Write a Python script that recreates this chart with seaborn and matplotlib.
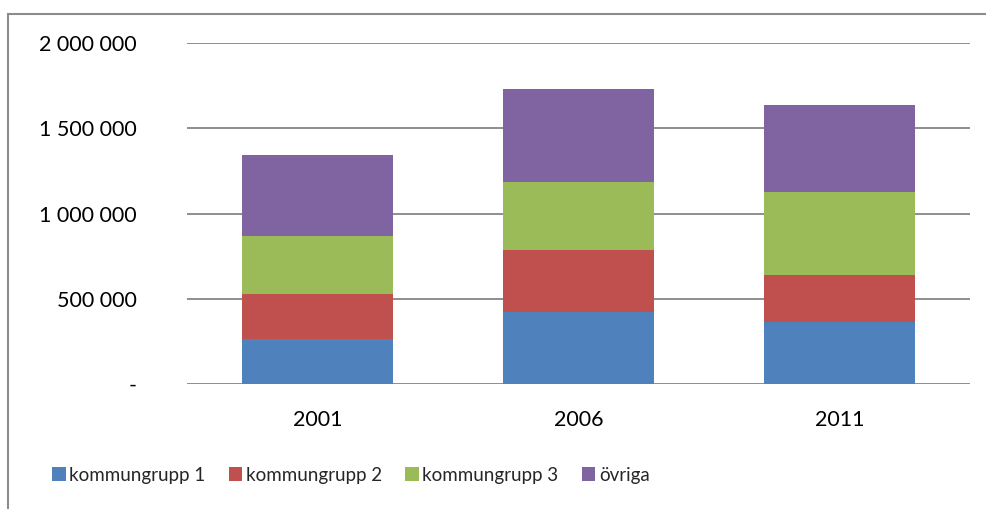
import numpy as np
import pandas as pd
import seaborn as sns
from matplotlib import pyplot as plt
from matplotlib.patches import Rectangle, Patch

years = ['2001', '2006', '2011']
groups = ['kommungrupp 1', 'kommungrupp 2', 'kommungrupp 3', 'övriga']
grupp1 = [265000, 424000, 363000]
grupp2 = [260000, 360000, 274000]
grupp3 = [341000, 400000, 492000]
ovriga = [477000, 549000, 508000]
colors = ['#4f81bd', '#c0504d', '#9bbb59', '#8064a2']
ytick_labels = ['-', '500 000', '1 000 000', '1 500 000', '2 000 000']

sns.set_theme(style='white')
plt.rcParams['font.family'] = ['Lato', 'DejaVu Sans']

df = pd.DataFrame({'year': years, 'kommungrupp 1': grupp1, 'kommungrupp 2': grupp2,
                   'kommungrupp 3': grupp3, 'övriga': ovriga})
cum = df[groups].cumsum(axis=1)
cum['year'] = df['year']

fig = plt.figure(figsize=(9.87, 5.09), dpi=100)
ax = fig.add_axes([187 / 987, 1 - 384 / 509, (970 - 187) / 987, (384 - 43) / 509])

# draw cumulative totals from the top down so each layer covers the one above
for g, c in zip(groups[::-1], colors[::-1]):
    sns.barplot(data=cum, x='year', y=g, color=c, width=0.575, saturation=1,
                linewidth=0, ax=ax)

ax.set_ylim(0, 2000000)
ax.set_xlim(-0.5, 2.5)
ax.set_yticks(np.arange(0, 2000001, 500000))
ax.set_yticklabels(ytick_labels)
ax.set_axisbelow(True)
ax.yaxis.grid(True, color='#868686', linewidth=1.3)
ax.xaxis.grid(False)
for s in ax.spines.values():
    s.set_visible(False)
ax.tick_params(axis='y', length=0, pad=36, labelsize=15.5, labelcolor='black')
ax.tick_params(axis='x', length=0, pad=19, labelsize=15.5, labelcolor='black')
ax.set_xlabel('')
ax.set_ylabel('')

handles = [Patch(facecolor=c, edgecolor='none') for c in colors]
fig.legend(handles, groups, loc='center', bbox_to_anchor=(351 / 987, 1 - 475 / 509),
           ncol=4, frameon=False, fontsize=13.5, handlelength=0.7, handleheight=0.7,
           handletextpad=0.2, columnspacing=1.25, borderpad=0)

# outer chart frame, cropped on the right and bottom
fig.patches.append(Rectangle((8 / 987, -0.2), 1.2, 1 - 14 / 509 + 0.2,
                             transform=fig.transFigure, fill=False,
                             edgecolor='#8c8c8c', linewidth=1.5))

fig.savefig('out.png', dpi=100)
